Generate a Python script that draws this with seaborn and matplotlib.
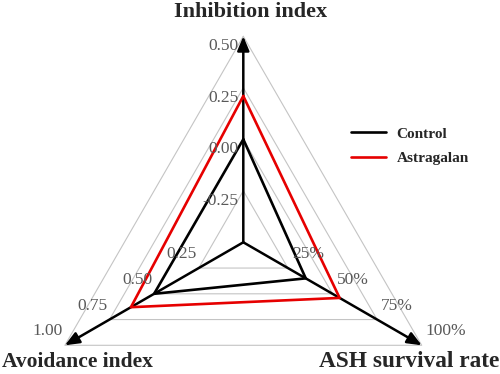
import numpy as np
import pandas as pd
import matplotlib
matplotlib.use("Agg")
import matplotlib.pyplot as plt
import seaborn as sns

# radar axes, clockwise from the top
axis_names = ["Inhibition index", "ASH survival rate", "Avoidance index"]
axis_min = [-0.5, 0, 0]
axis_max = [0.5, 100, 1]
tick_labels = [["-0.25", "0.00", "0.25", "0.50"],
               ["25%", "50%", "75%", "100%"],
               ["0.25", "0.50", "0.75", "1.00"]]
levels = [0.25, 0.5, 0.75, 1.0]

groups = ["Control", "Astragalan"]
control = [0.0, 35, 0.50]
astragalan = [0.21, 54, 0.63]

angles = np.deg2rad([90, -30, 210])

sns.set_style("white")
plt.rcParams["font.family"] = ["Liberation Serif", "DejaVu Serif"]

# build long table of polygon points (closed)
rows = []
for name, vals in zip(groups, [control, astragalan]):
    for k in list(range(3)) + [0]:
        frac = (vals[k] - axis_min[k]) / (axis_max[k] - axis_min[k])
        rows.append({"group": name, "x": frac * np.cos(angles[k]), "y": frac * np.sin(angles[k])})
df = pd.DataFrame(rows)

W, H = 500, 374
R, cx, cy = 206.0, 243.3, 242.3  # pixel geometry of the triangle
fig = plt.figure(figsize=(W / 100, H / 100), dpi=100)
ax = fig.add_axes([0, 0, 1, 1])
ax.set_xlim(-cx / R, (W - cx) / R)
ax.set_ylim(-(H - cy) / R, cy / R)
ax.axis("off")

# triangular grid
for lv in levels:
    gx = [lv * np.cos(a) for a in angles] + [lv * np.cos(angles[0])]
    gy = [lv * np.sin(a) for a in angles] + [lv * np.sin(angles[0])]
    ax.plot(gx, gy, color="#c4c4c4", lw=0.8, zorder=1)

# axis arrows
for a in angles:
    ax.annotate("", xy=(np.cos(a), np.sin(a)), xytext=(0, 0),
                arrowprops=dict(arrowstyle="-|>,head_length=0.86,head_width=0.36",
                                lw=1.8, color="black", shrinkA=0, shrinkB=0,
                                mutation_scale=10),
                zorder=2)

sns.lineplot(data=df, x="x", y="y", hue="group", palette={"Control": "black", "Astragalan": "#e60000"},
             sort=False, estimator=None, lw=1.9, ax=ax, zorder=3)

# tick labels along each axis
offsets = [(-5, -10, "right"), (4, 14, "left"), (-2, 14, "right")]
for k, a in enumerate(angles):
    dx, dy, ha = offsets[k]
    for lv, lab in zip(levels, tick_labels[k]):
        ax.annotate(lab, xy=(lv * np.cos(a), lv * np.sin(a)), xytext=(dx * 0.72, dy * 0.72),
                    textcoords="offset points", ha=ha, va="center",
                    fontsize=12.5, color="#595959", zorder=4)

# axis titles
fig.text(251 / W, 1 - 17 / H, axis_names[0], ha="center", va="baseline",
         fontsize=16, fontweight="bold")
fig.text(499 / W, 1 - 367 / H, axis_names[1], ha="right", va="baseline",
         fontsize=16.8, fontweight="bold")
fig.text(2 / W, 1 - 367 / H, axis_names[2], ha="left", va="baseline",
         fontsize=15.5, fontweight="bold")

handles, labels = ax.get_legend_handles_labels()
ax.legend(handles, labels, loc="center left", bbox_to_anchor=(337 / W, 1 - 146 / H),
          bbox_transform=fig.transFigure, frameon=False, handlelength=2.3,
          handletextpad=0.7, labelspacing=0.7,
          prop={"family": "Liberation Serif", "weight": "bold", "size": 11})

fig.savefig("out.png", dpi=100)
